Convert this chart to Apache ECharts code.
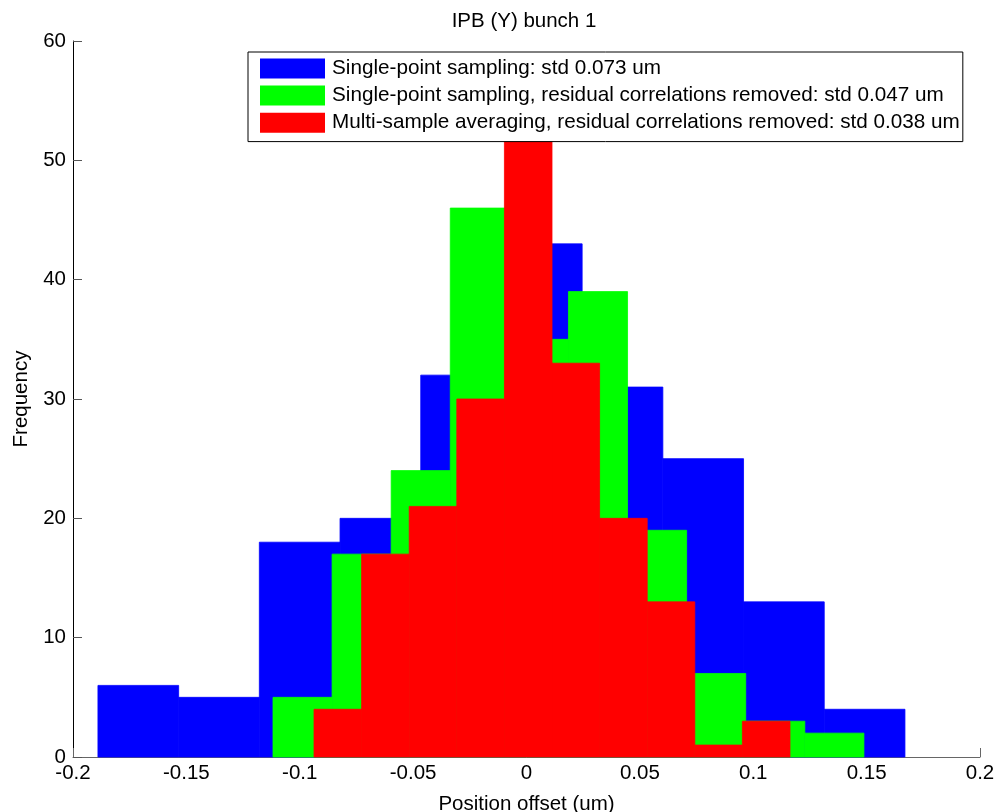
<!DOCTYPE html>
<html>
<head>
<meta charset="utf-8">
<title>IPB (Y) bunch 1</title>
<script src="https://cdn.jsdelivr.net/npm/echarts@6/dist/echarts.min.js"></script>
<style>
  html, body { margin: 0; padding: 0; background: #ffffff; }
  #chart { width: 997px; height: 812px; }
</style>
</head>
<body>
<div id="chart"></div>
<script>
// Histogram counts (10 equal-width bins per series) and each series' bin range [min, max] in um
const singlePointRange = [-0.189, 0.1669];
const singlePointCounts = [6, 5, 18, 20, 32, 43, 31, 25, 13, 4];

const singlePointCorrRange = [-0.1118, 0.1488];
const singlePointCorrCounts = [5, 17, 24, 46, 35, 39, 19, 7, 3, 2];

const multiSampleCorrRange = [-0.0937, 0.1162];
const multiSampleCorrCounts = [4, 17, 21, 30, 55, 33, 20, 13, 1, 3];

const seriesNames = [
  'Single-point sampling: std 0.073 um',
  'Single-point sampling, residual correlations removed: std 0.047 um',
  'Multi-sample averaging, residual correlations removed: std 0.038 um'
];
const seriesColors = ['#0000ff', '#00ff00', '#ff0000'];

const xTicks = { min: -0.2, max: 0.2, interval: 0.05 };
const yTicks = { min: 0, max: 60, interval: 10 };

const FONT = '"Liberation Sans", Arial, Helvetica, sans-serif';

// Turn a bin range + counts into [left edge, right edge, count] rows
function toBins(range, counts) {
  const n = counts.length;
  const w = (range[1] - range[0]) / n;
  return counts.map((c, i) => [range[0] + i * w, range[0] + (i + 1) * w, c]);
}

function renderBin(params, api) {
  const topLeft = api.coord([api.value(0), api.value(2)]);
  const bottomRight = api.coord([api.value(1), 0]);
  const color = api.visual('color');
  return {
    type: 'rect',
    shape: {
      x: topLeft[0],
      y: topLeft[1],
      width: bottomRight[0] - topLeft[0],
      height: bottomRight[1] - topLeft[1]
    },
    // a hairline stroke in the fill colour closes seams between neighbouring bins
    style: { fill: color, stroke: color, lineWidth: 0.8 }
  };
}

function histSeries(name, color, range, counts, z) {
  return {
    type: 'custom',
    name: name,
    z: z,
    itemStyle: { color: color },
    renderItem: renderBin,
    encode: { x: [0, 1], y: 2 },
    data: toBins(range, counts),
    animation: false
  };
}

const chart = echarts.init(document.getElementById('chart'), null, { renderer: 'canvas' });

chart.setOption({
  animation: false,
  textStyle: { fontFamily: FONT },
  title: {
    text: 'IPB (Y) bunch 1',
    left: 519,
    textAlign: 'center',
    top: 6,
    textStyle: { fontFamily: FONT, fontSize: 20.5, fontWeight: 'normal', color: '#000' }
  },
  grid: { left: 73, right: 17, top: 41, bottom: 55, containLabel: false, outerBoundsMode: 'none' },
  legend: {
    z: 20,
    orient: 'vertical',
    left: 248,
    top: 52,
    padding: [6, 3, 8.4, 12],
    itemWidth: 65,
    itemHeight: 20,
    itemGap: 6.1,
    icon: 'rect',
    backgroundColor: '#ffffff',
    borderColor: '#000000',
    borderWidth: 1,
    borderRadius: 0,
    selectedMode: false,
    data: seriesNames,
    textStyle: { fontFamily: FONT, fontSize: 20.7, color: '#000', padding: [0, 0, 0, 2] }
  },
  xAxis: {
    type: 'value',
    min: xTicks.min,
    max: xTicks.max,
    interval: xTicks.interval,
    name: 'Position offset (um)',
    nameLocation: 'middle',
    nameGap: 37,
    nameTextStyle: { fontFamily: FONT, fontSize: 20.5, color: '#000' },
    axisLine: { show: true, onZero: false, lineStyle: { color: '#666', width: 1 } },
    axisTick: { show: true, inside: true, length: 9, lineStyle: { color: '#666' } },
    axisLabel: { fontFamily: FONT, fontSize: 20.5, color: '#000', margin: 6 },
    splitLine: { show: false }
  },
  yAxis: {
    type: 'value',
    min: yTicks.min,
    max: yTicks.max,
    interval: yTicks.interval,
    name: 'Frequency',
    nameLocation: 'middle',
    nameRotate: 90,
    nameGap: 41,
    nameTextStyle: { fontFamily: FONT, fontSize: 20.5, color: '#000' },
    axisLine: { show: true, onZero: false, lineStyle: { color: '#000', width: 1 } },
    axisTick: { show: true, inside: true, length: 9, lineStyle: { color: '#555' } },
    axisLabel: { fontFamily: FONT, fontSize: 20.5, color: '#000', margin: 7 },
    splitLine: { show: false }
  },
  series: [
    histSeries(seriesNames[0], seriesColors[0], singlePointRange, singlePointCounts, 2),
    histSeries(seriesNames[1], seriesColors[1], singlePointCorrRange, singlePointCorrCounts, 3),
    histSeries(seriesNames[2], seriesColors[2], multiSampleCorrRange, multiSampleCorrCounts, 4)
  ]
});
</script>
</body>
</html>
